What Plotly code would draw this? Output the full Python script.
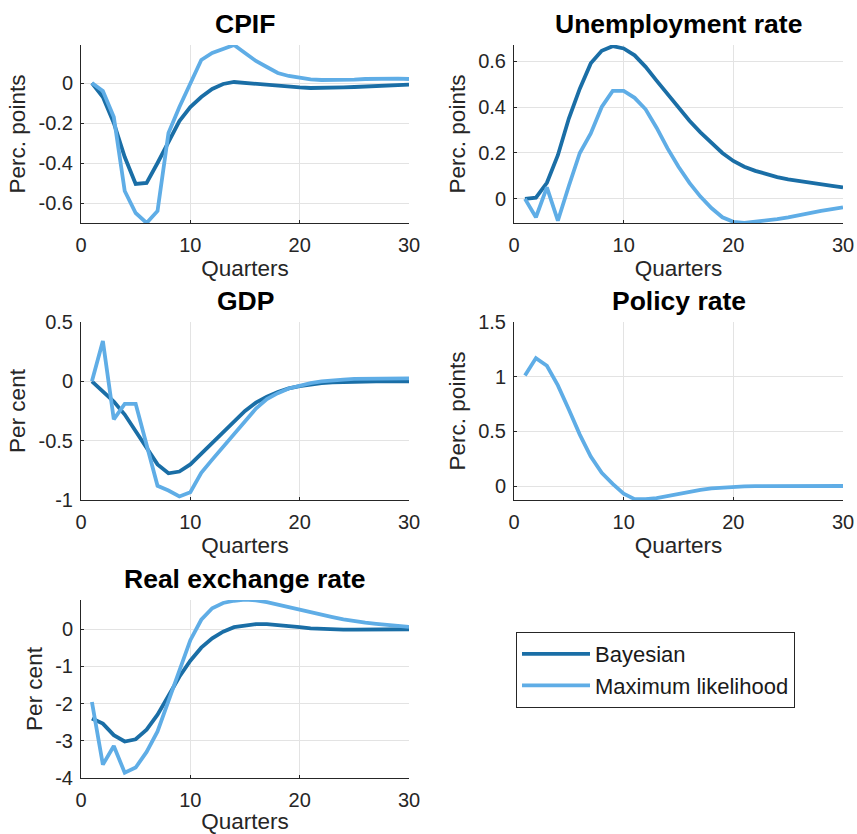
import plotly.graph_objects as go

quarters = list(range(1, 31))

cpif_bayes = [0.0, -0.07, -0.2, -0.37, -0.505, -0.5, -0.4, -0.29, -0.19, -0.12, -0.07, -0.03, -0.005, 0.005, 0.0,
              -0.005, -0.01, -0.015, -0.02, -0.022, -0.025, -0.025, -0.025, -0.022, -0.02, -0.018, -0.015, -0.012, -0.01, -0.008]
cpif_ml = [0.0, -0.04, -0.17, -0.54, -0.65, -0.70, -0.64, -0.25, -0.12, 0.0, 0.115, 0.15, 0.17, 0.19, 0.15,
           0.11, 0.08, 0.05, 0.035, 0.025, 0.018, 0.015, 0.015, 0.015, 0.017, 0.02, 0.022, 0.022, 0.022, 0.02]

unemp_bayes = [0.0, 0.005, 0.07, 0.19, 0.35, 0.48, 0.59, 0.645, 0.665, 0.655, 0.625, 0.575, 0.515, 0.455, 0.395,
               0.34, 0.29, 0.245, 0.2, 0.165, 0.14, 0.122, 0.107, 0.095, 0.085, 0.077, 0.07, 0.063, 0.057, 0.05]
unemp_ml = [0.0, -0.08, 0.05, -0.095, 0.056, 0.2, 0.285, 0.4, 0.47, 0.47, 0.44, 0.39, 0.31, 0.22, 0.14,
            0.07, 0.01, -0.04, -0.08, -0.1, -0.105, -0.1, -0.095, -0.088, -0.08, -0.07, -0.06, -0.052, -0.045, -0.037]

gdp_bayes = [0.0, -0.08, -0.17, -0.28, -0.42, -0.57, -0.7, -0.775, -0.76, -0.7, -0.61, -0.52, -0.42, -0.33, -0.25,
             -0.18, -0.13, -0.09, -0.06, -0.04, -0.025, -0.015, -0.008, -0.004, -0.002, 0.0, 0.0, 0.0, 0.0, 0.0]
gdp_ml = [0.0, 0.34, -0.32, -0.19, -0.19, -0.54, -0.88, -0.92, -0.97, -0.935, -0.77, -0.66, -0.55, -0.44, -0.33,
          -0.23, -0.15, -0.1, -0.06, -0.035, -0.015, 0.0, 0.01, 0.015, 0.02, 0.022, 0.024, 0.025, 0.025, 0.025]

policy_ml = [1.01, 1.17, 1.1, 0.92, 0.7, 0.47, 0.27, 0.12, 0.02, -0.07, -0.12, -0.12, -0.11, -0.09, -0.07,
             -0.05, -0.035, -0.022, -0.013, -0.007, -0.003, -0.001, 0.0, 0.0, 0.0, 0.0, 0.0, 0.0, 0.0, 0.0]

rer_bayes = [-2.4, -2.54, -2.85, -3.02, -2.96, -2.7, -2.3, -1.78, -1.28, -0.85, -0.5, -0.25, -0.07, 0.05, 0.1,
             0.13, 0.13, 0.11, 0.08, 0.05, 0.02, 0.0, -0.01, -0.015, -0.015, -0.015, -0.01, -0.01, -0.005, -0.005]
rer_ml = [-1.96, -3.64, -3.14, -3.86, -3.72, -3.3, -2.75, -1.95, -1.1, -0.3, 0.25, 0.56, 0.7, 0.76, 0.79,
          0.77, 0.72, 0.65, 0.58, 0.51, 0.44, 0.38, 0.32, 0.26, 0.21, 0.17, 0.14, 0.11, 0.08, 0.06]

panels = [
    dict(title="CPIF", ylabel="Perc. points", bayes=cpif_bayes, ml=cpif_ml,
         yrange=[-0.70, 0.19], yticks=[-0.6, -0.4, -0.2, 0], ytext=["-0.6", "-0.4", "-0.2", "0"]),
    dict(title="Unemployment rate", ylabel="Perc. points", bayes=unemp_bayes, ml=unemp_ml,
         yrange=[-0.105, 0.67], yticks=[0, 0.2, 0.4, 0.6], ytext=["0", "0.2", "0.4", "0.6"]),
    dict(title="GDP", ylabel="Per cent", bayes=gdp_bayes, ml=gdp_ml,
         yrange=[-1, 0.5], yticks=[-1, -0.5, 0, 0.5], ytext=["-1", "-0.5", "0", "0.5"]),
    dict(title="Policy rate", ylabel="Perc. points", bayes=None, ml=policy_ml,
         yrange=[-0.128, 1.5], yticks=[0, 0.5, 1, 1.5], ytext=["0", "0.5", "1", "1.5"]),
    dict(title="Real exchange rate", ylabel="Per cent", bayes=rer_bayes, ml=rer_ml,
         yrange=[-4, 0.78], yticks=[-4, -3, -2, -1, 0], ytext=["-4", "-3", "-2", "-1", "0"]),
]

W, H = 857, 834
col_px = [(81, 409), (514, 843)]
row_px = [(45, 223), (322, 500), (600, 778)]

DARK = "#1a6ea6"
LIGHT = "#5fade6"
FONT = "Liberation Sans, Arial, sans-serif"
TXT = "#262626"

fig = go.Figure()
layout = dict(
    width=W, height=H, margin=dict(l=0, r=0, t=0, b=0, autoexpand=False),
    paper_bgcolor="white", plot_bgcolor="white",
    font=dict(family=FONT, size=20, color=TXT),
    showlegend=True,
    legend=dict(x=516 / W, y=1 - 632 / H, xanchor="left", yanchor="top",
                bordercolor=TXT, borderwidth=1, bgcolor="white",
                font=dict(size=22, color="#1a1a1a"), tracegroupgap=0,
                itemwidth=68),
    annotations=[],
)

for i, p in enumerate(panels):
    r, c = divmod(i, 2)
    x0, x1 = col_px[c]
    yt, yb = row_px[r]
    n = i + 1
    xa = "x" if n == 1 else f"x{n}"
    ya = "y" if n == 1 else f"y{n}"
    axis_common = dict(showline=True, linecolor=TXT, linewidth=1, mirror=False,
                       showgrid=True, gridcolor="#e3e3e3", gridwidth=1, zeroline=False,
                       ticks="inside", ticklen=3, tickcolor=TXT, automargin=False,
                       tickfont=dict(size=20, color=TXT))
    layout["xaxis" if n == 1 else f"xaxis{n}"] = dict(
        domain=[x0 / W, x1 / W], anchor=ya, range=[0, 30],
        tickvals=[0, 10, 20, 30], ticktext=["0", "10", "20", "30"],
        ticklabelstandoff=4,
        title=dict(text="Quarters", font=dict(size=22.5, color=TXT), standoff=2),
        **axis_common)
    layout["yaxis" if n == 1 else f"yaxis{n}"] = dict(
        domain=[1 - yb / H, 1 - yt / H], anchor=xa, range=p["yrange"],
        tickvals=p["yticks"], ticktext=p["ytext"],
        ticklabelstandoff=3,
        title=dict(text=p["ylabel"], font=dict(size=22.5, color=TXT), standoff=6),
        **axis_common)
    layout["annotations"].append(dict(
        text=f"<b>{p['title']}</b>", x=(x0 + x1) / 2 / W, y=1 - (yt - 4) / H,
        xref="paper", yref="paper", xanchor="center", yanchor="bottom",
        showarrow=False, font=dict(size=26.5, color="black", family=FONT)))
    if p["bayes"] is not None:
        fig.add_trace(go.Scatter(x=quarters, y=p["bayes"], mode="lines", name="Bayesian",
                                 line=dict(color=DARK, width=3.8), xaxis=xa, yaxis=ya,
                                 showlegend=(i == 0), legendgroup="b", cliponaxis=True))
    fig.add_trace(go.Scatter(x=quarters, y=p["ml"], mode="lines", name="Maximum likelihood",
                             line=dict(color=LIGHT, width=3.8), xaxis=xa, yaxis=ya,
                             showlegend=(i == 0), legendgroup="m", cliponaxis=True))

fig.update_layout(**layout)
fig.write_html("out.html", config={"displayModeBar": False},
               post_script="document.body.style.margin='0';document.body.style.overflow='hidden';")
